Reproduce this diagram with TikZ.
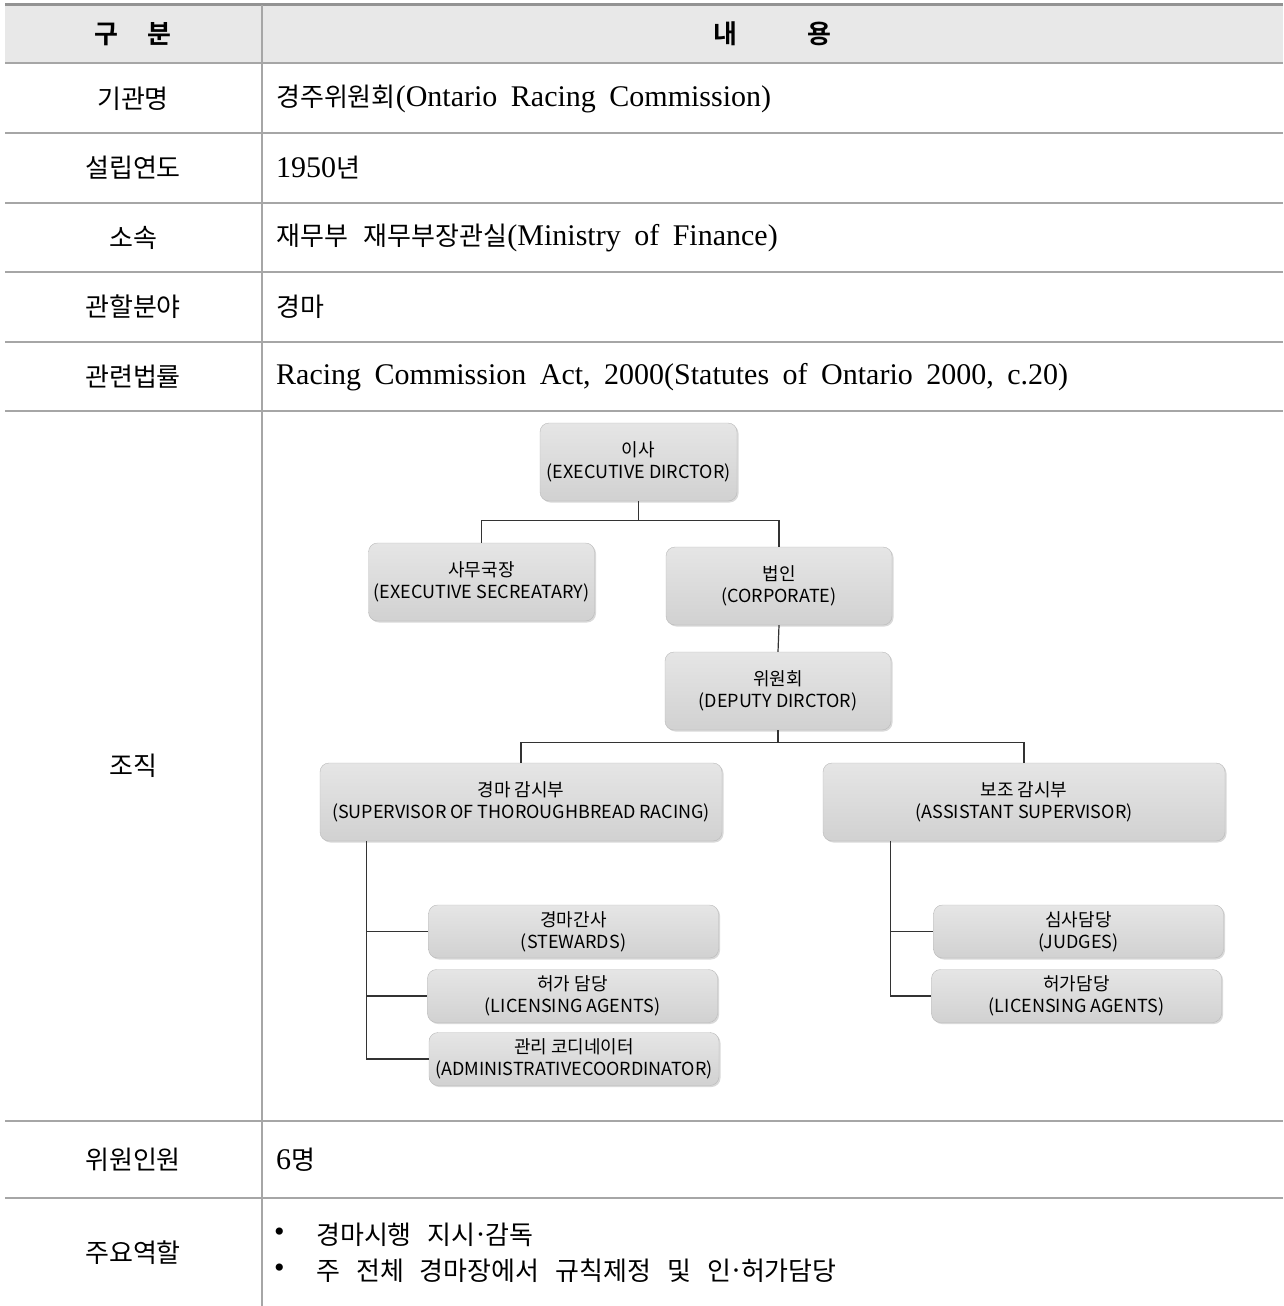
\documentclass[tikz,border=0pt]{standalone}
\usepackage{fontspec}
\setmainfont[WordSpace=1.8]{Liberation Serif}
\newfontfamily\kr[BoldFont={Noto Sans CJK KR Bold}]{Noto Sans CJK KR}
\newfontfamily\krs{Noto Sans CJK KR}
\newcommand\ko[1]{{\kr\fontsize{26}{30}\selectfont #1}}
\newcommand\gap{\hspace{16pt}}
\usetikzlibrary{positioning,calc,shadows}

\begin{document}
\begin{tikzpicture}[
    x=1pt, y=-1pt,
    head/.style={inner sep=0pt, font=\kr\bfseries\fontsize{26}{30}\selectfont},
    cell/.style={inner sep=0pt, font=\kr\fontsize{26}{30}\selectfont},
    txt/.style={anchor=west, inner sep=0pt, font=\fontsize{30}{32}\selectfont},
    org/.style={rectangle, draw=gray!55, top color=gray!20, bottom color=gray!36, rounded corners=9pt, align=center, inner sep=0pt, font=\krs\fontsize{18}{22}\selectfont,
        general shadow={fill=gray!30, shadow xshift=1.5pt, shadow yshift=-1.5pt}},
    big/.style={org, minimum width=226pt, minimum height=78pt},
    wide/.style={org, minimum width=402pt, minimum height=78pt},
    small/.style={org, minimum width=290pt, minimum height=53pt},
    link/.style={draw=black!80, line width=1.2pt},
    rule/.style={draw=gray!70, line width=1.2pt}
]
    \useasboundingbox (0,0) rectangle (1283,1306);

    % table frame
    \fill [gray!18] (5,5) rectangle (1283,63);
    \draw [draw=gray!85, line width=3pt] (5,5) -- (1283,5);
    \foreach \yy in {63,133,203,272,342,411,1121,1198}
        \draw [rule] (5,\yy) -- (1283,\yy);
    \draw [rule] (262,5) -- (262,1306);

    % header
    \node [head] (h1) at (133,34) {구\hspace{30pt}분};
    \node [head] (h2) at (772,34) {내\hspace{70pt}용};

    % left column
    \node [cell] (c1) at (133,99) {기관명};
    \node [cell] (c2) at (133,168) {설립연도};
    \node [cell] (c3) at (133,238) {소속};
    \node [cell] (c4) at (133,307) {관할분야};
    \node [cell] (c5) at (133,377) {관련법률};
    \node [cell] (c6) at (133,766) {조직};
    \node [cell] (c7) at (133,1160) {위원인원};
    \node [cell] (c8) at (133,1253) {주요역할};

    % right column
    \node [txt] (t1) at (276,99) {\ko{경주위원회}(Ontario Racing Commission)};
    \node [txt] (t2) at (276,168) {1950\ko{년}};
    \node [txt] (t3) at (276,238) {\ko{재무부\gap 재무부장관실}(Ministry of Finance)};
    \node [txt] (t4) at (276,307) {\ko{경마}};
    \node [txt] (t5) at (276,377) {Racing Commission Act, 2000(Statutes of Ontario 2000, c.20)};
    \node [txt] (t7) at (276,1160) {6\ko{명}};
    \node [txt] (b1) at (274,1235) {\textbullet};
    \node [txt] (b2) at (274,1271) {\textbullet};
    \node [txt] (t8) at (316,1235) {\ko{경마시행\gap 지시}·\ko{감독}};
    \node [txt] (t9) at (316,1271) {\ko{주\gap 전체\gap 경마장에서\gap 규칙제정\gap 및\gap 인}·\ko{허가담당}};

    % organisation chart
    \node [org, minimum width=197pt, minimum height=78pt] (exec) at (638.5,462) {이사\\(EXECUTIVE DIRCTOR)};
    \node [big] (secr) at (481.5,582) {사무국장\\(EXECUTIVE SECREATARY)};
    \node [big] (corp) at (779,586) {법인\\(CORPORATE)};
    \node [big] (dep) at (778,691) {위원회\\(DEPUTY DIRCTOR)};
    \node [wide] (sup1) at (521,802) {경마 감시부\\(SUPERVISOR OF THOROUGHBREAD RACING)};
    \node [wide] (sup2) at (1024,802) {보조 감시부\\(ASSISTANT SUPERVISOR)};
    \node [small] (stew) at (573.5,931.5) {경마간사\\(STEWARDS)};
    \node [small] (lic1) at (572.5,996) {허가 담당\\(LICENSING AGENTS)};
    \node [small] (adm) at (574,1059) {관리 코디네이터\\(ADMINISTRATIVECOORDINATOR)};
    \node [small] (judg) at (1078.5,931.5) {심사담당\\(JUDGES)};
    \node [small] (lic2) at (1076.5,996) {허가담당\\(LICENSING AGENTS)};

    \coordinate (j1) at ($(exec.south)+(0,19)$);
    \coordinate (j2) at ($(dep.south)+(0,12)$);
    \coordinate (j3) at ($(sup1.south west)+(47,0)$);
    \coordinate (j4) at ($(sup2.south west)+(68,0)$);

    \draw [link] (exec.south) -- (j1);
    \draw [link] (secr.north) |- (j1) -| (corp.north);
    \draw [link] (corp.south) -- (dep.north);
    \draw [link] (dep.south) -- (j2);
    \draw [link] (sup1.north) |- (j2) -| (sup2.north);

    \draw [link] (j3) |- (adm.west);
    \draw [link] (j3 |- stew.west) -- (stew.west);
    \draw [link] (j3 |- lic1.west) -- (lic1.west);
    \draw [link] (j4) |- (lic2.west);
    \draw [link] (j4 |- judg.west) -- (judg.west);
\end{tikzpicture}
\end{document}
